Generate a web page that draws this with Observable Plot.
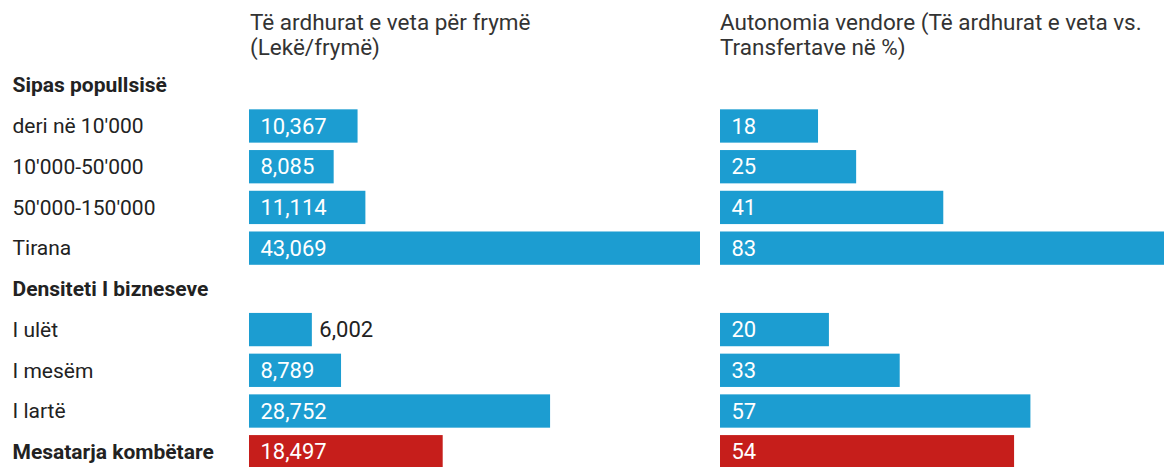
<!DOCTYPE html>
<html>
<head>
<meta charset="utf-8">
<script src="https://cdn.jsdelivr.net/npm/d3@7"></script>
<script src="https://cdn.jsdelivr.net/npm/@observablehq/plot@0.6"></script>
<style>
  html, body { margin: 0; padding: 0; background: #fff; overflow: hidden; }
  #wrap { position: relative; width: 1164px; height: 467px; overflow: hidden; font-family: Roboto, sans-serif; }
  .ttl { position: absolute; top: 10px; font-size: 22.5px; line-height: 25px; color: #333; white-space: pre; }
  .pl { position: absolute; top: 62px; }
  .pl svg { overflow: hidden; max-width: none !important; display: block; }
</style>
</head>
<body>
<div id="wrap">
  <div class="ttl" id="t1" style="left:250px"></div>
  <div class="ttl" id="t2" style="left:720px"></div>
  <div class="pl" id="p1" style="left:0px; width:710px"></div>
  <div class="pl" id="p2" style="left:710px; width:462px"></div>
</div>
<script>
const titles = ["Të ardhurat e veta për frymë\n(Lekë/frymë)", "Autonomia vendore (Të ardhurat e veta vs.\nTransfertave në %)"];
const groupHeaders = ["Sipas popullsisë", "Densiteti I bizneseve"];
const rowOrder = ["Sipas popullsisë", "deri në 10'000", "10'000-50'000", "50'000-150'000", "Tirana",
  "Densiteti I bizneseve", "I ulët", "I mesëm", "I lartë", "Mesatarja kombëtare"];
const categories = ["deri në 10'000", "10'000-50'000", "50'000-150'000", "Tirana", "I ulët", "I mesëm", "I lartë", "Mesatarja kombëtare"];
const income = [10367, 8085, 11114, 43069, 6002, 8789, 28752, 18497];
const autonomy = [18, 25, 41, 83, 20, 33, 57, 54];
const nationalRow = "Mesatarja kombëtare";

const BLUE = "#1c9dd1", RED = "#c61e1b";
const fmtInc = d3.format(",");
const fmtAut = d3.format("d");

document.getElementById("t1").textContent = titles[0];
document.getElementById("t2").textContent = titles[1];

const incData = categories.map((c, i) => ({cat: c, v: income[i]}));
const autData = categories.map((c, i) => ({cat: c, v: autonomy[i]}));
const labelRows = rowOrder.map(r => ({row: r, bold: groupHeaders.includes(r) || r === nationalRow}));

const yScale = () => ({type: "band", domain: rowOrder, range: [-0.8, 413.8], padding: 0.182, round: false, axis: null});
const H = 405;

function barMarks(data, max, fmt) {
  const inside = data.filter(d => d.v / max >= 0.15);
  const outside = data.filter(d => d.v / max < 0.15);
  return [
    Plot.barX(data, {x: "v", y: "cat", fill: d => d.cat === nationalRow ? RED : BLUE}),
    Plot.text(inside, {x: 0, y: "cat", text: d => fmt(d.v), textAnchor: "start", dx: 11, fill: "white", fontSize: 22}),
    Plot.text(outside, {x: "v", y: "cat", text: d => fmt(d.v), textAnchor: "start", dx: 7, fill: "#222", fontSize: 22})
  ];
}

const p1 = Plot.plot({
  width: 710, height: H,
  marginLeft: 0, marginRight: 0, marginTop: 0, marginBottom: 0,
  style: {fontFamily: "Roboto, sans-serif", background: "transparent", maxWidth: "none"},
  x: {domain: [0, 43069], range: [249, 700], axis: null},
  y: yScale(),
  color: {type: "identity"},
  marks: [
    Plot.text(labelRows.filter(d => !d.bold), {y: "row", text: "row", frameAnchor: "left", textAnchor: "start", dx: 12, fontSize: 21, fill: "#222"}),
    Plot.text(labelRows.filter(d => d.bold), {y: "row", text: "row", frameAnchor: "left", textAnchor: "start", dx: 12, fontSize: 21, fontWeight: "bold", fill: "#222"}),
    ...barMarks(incData, 43069, fmtInc)
  ]
});
document.getElementById("p1").appendChild(p1);

const p2 = Plot.plot({
  width: 462, height: H,
  marginLeft: 0, marginRight: 0, marginTop: 0, marginBottom: 0,
  style: {fontFamily: "Roboto, sans-serif", background: "transparent", maxWidth: "none"},
  x: {domain: [0, 83], range: [10, 462], axis: null},
  y: yScale(),
  color: {type: "identity"},
  marks: barMarks(autData, 83, fmtAut)
});
document.getElementById("p2").appendChild(p2);
</script>
</body>
</html>
